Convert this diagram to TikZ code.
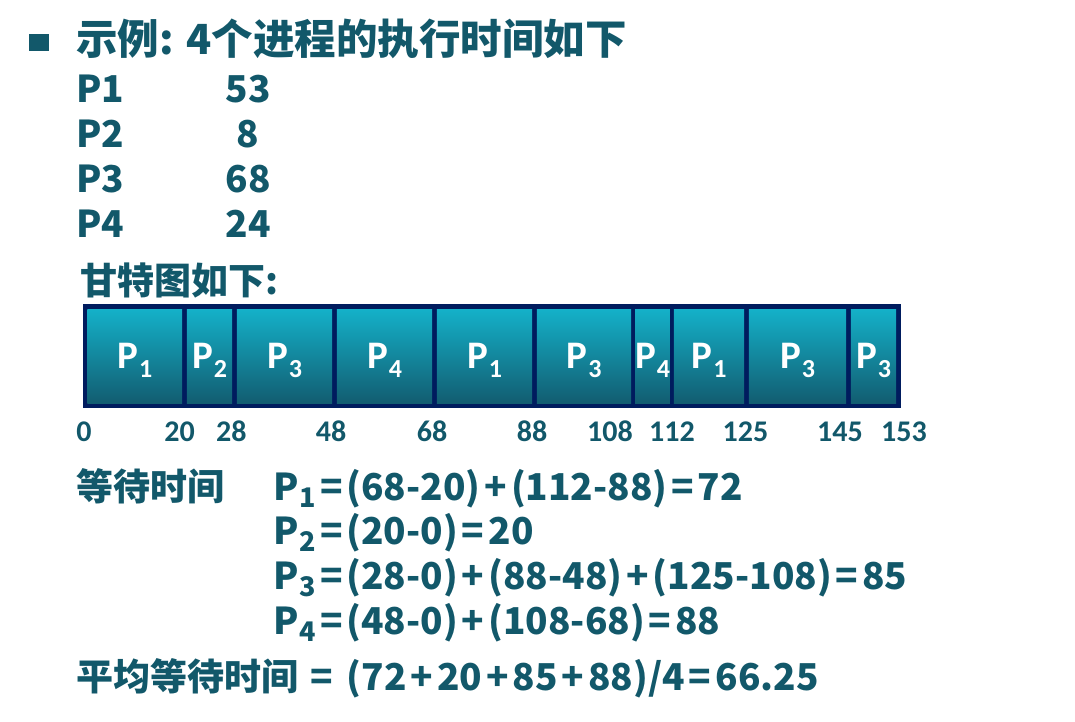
\documentclass[tikz,border=0pt]{standalone}
\usepackage{fontspec}
\setmainfont{Noto Sans CJK SC}
\newfontfamily\gfont{Carlito}
\usetikzlibrary{positioning}
\definecolor{txtteal}{RGB}{18,88,106}
\definecolor{ganttnavy}{RGB}{0,28,94}
\definecolor{celltop}{RGB}{20,177,201}
\definecolor{cellbot}{RGB}{18,92,112}
\newcommand{\psub}[1]{\kern1pt\raisebox{-7pt}{\fontsize{27}{27}\selectfont #1}}
\newcommand{\gsub}[1]{\kern1pt\raisebox{-9pt}{\fontsize{26}{26}\selectfont #1}}
\newcommand{\opr}[1]{\kern4pt#1\kern4pt}

\begin{document}
\begin{tikzpicture}[x=1pt,y=-1pt,
  txt/.style={anchor=base west, inner sep=0, text=txtteal,
    font=\fontsize{37}{44}\selectfont\bfseries},
  val/.style={anchor=base, inner sep=0, text=txtteal,
    font=\fontsize{37}{44}\selectfont\bfseries},
  cell/.style={inner sep=0, top color=celltop, bottom color=cellbot,
    text=white, font=\gfont\bfseries\fontsize{39}{46}\selectfont,
    minimum height=94.7pt, text height=30pt, text depth=6.6pt},
  tick/.style={anchor=base, inner sep=0, text=txtteal,
    font=\gfont\bfseries\fontsize{30}{36}\selectfont}]
  \useasboundingbox (0,0) rectangle (1075,722);

  % Heading and burst times
  \fill[txtteal] (29,34) rectangle (48.5,51);
  \node[txt, font=\fontsize{41.5}{48}\selectfont\bfseries] (title) at (76,55)
    {示例: 4个进程的执行时间如下};
  \foreach \i/\t in {1/53, 2/8, 3/68, 4/24} {
    \pgfmathsetmacro{\y}{103+44.7*(\i-1)}
    \node[txt] (p\i) at (76,\y) {P\i};
    \node[val] (v\i) at (248,\y) {\t};
  }
  \node[txt] (gtitle) at (80,294) {甘特图如下:};

  % Gantt chart
  \fill[ganttnavy] (82.7,304.3) rectangle (900.8,408.3);
  \foreach \a/\b/\p [count=\k] in {85/184.5/1, 184.5/234.5/2, 234.5/334.5/3,
      334.5/434.5/4, 434.5/534.5/1, 534.5/633.5/3, 633.5/671.5/4,
      671.5/746.5/1, 746.5/848.5/3, 848.5/898.5/3} {
    \pgfmathsetmacro{\w}{\b-\a-4.7}
    \pgfmathsetmacro{\cx}{(\a+\b)/2}
    \node[cell, minimum width=\w pt] (c\k) at (\cx,356.35) {P\gsub{\p}};
  }

  % Time marks
  \foreach \x/\t [count=\k] in {84/0, 179.5/20, 231.4/28, 331/48, 432/68,
      532/88, 610/108, 672/112, 745.5/125, 840/145, 904/153} {
    \node[tick] (t\k) at (\x,441) {\t};
  }

  % Waiting times
  \node[txt] (wait) at (76,500) {等待时间};
  \node[txt] (w1) at (273,500)
    {P\psub{1}\opr{=}(68-20)\opr{+}(112-88)\opr{=}72};
  \node[txt] (w2) at (273,544.5) {P\psub{2}\opr{=}(20-0)\opr{=}20};
  \node[txt] (w3) at (273,589.3)
    {P\psub{3}\opr{=}(28-0)\opr{+}(88-48)\opr{+}(125-108)\opr{=}85};
  \node[txt] (w4) at (273,634.3)
    {P\psub{4}\opr{=}(48-0)\opr{+}(108-68)\opr{=}88};
  \node[txt] (avg) at (76,690)
    {平均等待时间\kern12pt=\kern14pt(72\opr{+}20\opr{+}85\opr{+}88)/4\opr{=}66.25};
\end{tikzpicture}
\end{document}
